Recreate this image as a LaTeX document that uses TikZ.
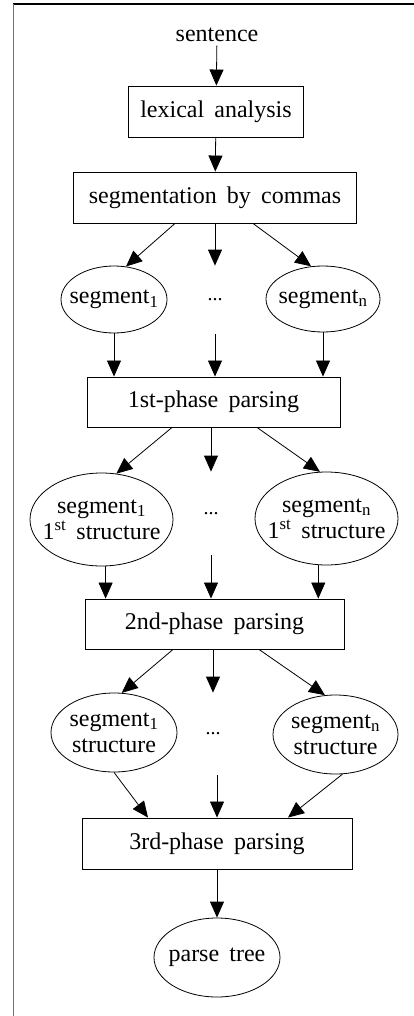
\documentclass[tikz,border=0pt]{standalone}
\usepackage{fontspec}
\setmainfont{Liberation Serif}[WordSpace=1.7]
\usetikzlibrary{arrows.meta,shapes.geometric,positioning,calc}

\tikzset{
  phase/.style={draw, rectangle, line width=0.9pt, inner sep=0pt},
  seg/.style={draw, ellipse, inner sep=0pt, label={[align=center]center:#1}},
  dots/.style={inner sep=0pt, font=\fontsize{20}{20}\selectfont},
}

\begin{document}
\begin{tikzpicture}[x=1pt, y=-1pt, >={Triangle[length=16pt,width=14pt]}, line width=0.8pt,
    font=\fontsize{24}{26}\selectfont]
    \useasboundingbox (0,0) rectangle (414,1016);
    % frame
    \draw[line width=1.2pt] (13,4) -- (414,4);
    \draw[line width=1.6pt, black!55] (13.5,4) -- (13.5,1016);

    \node (sent) at (217,35) {sentence};
    \node[phase, minimum width=175pt, minimum height=51pt] (lex)   at (216,111.5) {lexical analysis};
    \node[phase, minimum width=283pt, minimum height=51pt] (comma) at (215,197.5) {segmentation by commas};

    \node[seg={segment\textsubscript{1}}, minimum width=106pt, minimum height=67pt] (s1a) at (114,299.5) {};
    \node[dots, minimum height=68pt] (d1) at (215,300) {...};
    \node[seg={segment\textsubscript{n}}, minimum width=114pt, minimum height=66pt] (sna) at (323,299) {};

    \node[phase, minimum width=253pt, minimum height=50pt] (ph1) at (213.5,402) {1st-phase parsing};

    \node[seg={segment\textsubscript{1}\\1\textsuperscript{st} structure}, minimum width=143pt, minimum height=93pt] (s1b) at (101.5,519.5) {};
    \node[dots, minimum height=83pt] (d2) at (211,513.5) {...};
    \node[seg={segment\textsubscript{n}\\1\textsuperscript{st} structure}, minimum width=143pt, minimum height=93pt] (snb) at (326.5,518.5) {};

    \node[phase, minimum width=259pt, minimum height=50pt] (ph2) at (214.5,624) {2nd-phase parsing};

    \node[seg={segment\textsubscript{1}\\structure}, minimum width=126pt, minimum height=79pt] (s1c) at (114,732.5) {};
    \node[dots, minimum height=82pt] (d3) at (213,734) {...};
    \node[seg={segment\textsubscript{n}\\structure}, minimum width=125pt, minimum height=79pt] (snc) at (335.5,734.5) {};

    \node[phase, minimum width=270pt, minimum height=51pt] (ph3) at (217,843.5) {3rd-phase parsing};
    \node[seg={parse tree}, minimum width=126pt, minimum height=79pt] (tree) at (217,957.5) {};

    \draw[->] (sent) -- (lex);
    \draw[->] (lex) -- (comma);

    \draw[->] ([xshift=-40pt]comma.south) -- (s1a.70);
    \draw[->] (d1.north |- comma.south) -- (d1.north);
    \draw[->] ([xshift=38pt]comma.south) -- (sna.110);

    \draw[->] (s1a.south) -- (s1a.south |- ph1.north);
    \draw[->] (d1.south) -- (d1.south |- ph1.north);
    \draw[->] (sna.south) -- (sna.south |- ph1.north);

    \draw[->] ([xshift=-41.5pt]ph1.south) -- (s1b.72);
    \draw[->] (d2.north |- ph1.south) -- (d2.north);
    \draw[->] ([xshift=43.5pt]ph1.south) -- (snb.98);

    \draw[->] (s1b.-85) -- (s1b.-85 |- ph2.north);
    \draw[->] (d2.south) -- (d2.south |- ph2.north);
    \draw[->] (snb.-100) -- (snb.-100 |- ph2.north);

    \draw[->] ([xshift=-41.5pt]ph2.south) -- (s1c.79);
    \draw[->] (d3.north |- ph2.south) -- (d3.north);
    \draw[->] ([xshift=44.5pt]ph2.south) -- (snc.105);

    \draw[->] (s1c.south) -- ([xshift=-69pt]ph3.north);
    \draw[->] (ph3.north |- d3.south) -- (ph3.north);
    \draw[->] (snc.-80) -- ([xshift=71pt]ph3.north);

    \draw[->] (ph3) -- (tree);
\end{tikzpicture}
\end{document}
